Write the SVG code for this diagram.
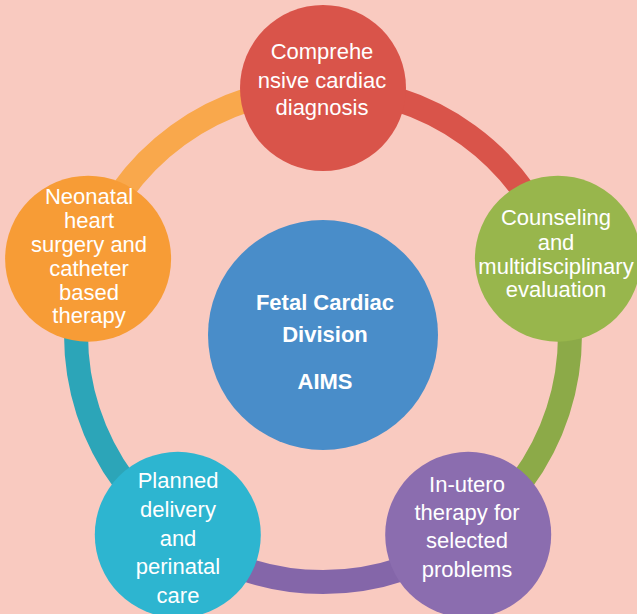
<svg xmlns="http://www.w3.org/2000/svg" width="637" height="614" viewBox="0 0 637 614">
  <style>
    .ring { fill: none; stroke-width: 24; }
    .lbl { font-family: "Liberation Sans", Arial, sans-serif; font-size: 22px; fill: #ffffff; text-anchor: middle; }
    .hub { font-family: "Liberation Sans", Arial, sans-serif; font-size: 22px; font-weight: bold; fill: #ffffff; text-anchor: middle; }
  </style>
  <rect x="0" y="0" width="637" height="614" fill="#F9CAC0"/>

  <!-- cycle connectors on a ring centred at (323,335), r=247 -->
  <g id="connectors">
    <path class="ring" stroke="#D9544A" d="M 323 88 A 247 247 0 0 1 557.9 258.7"/>
    <path class="ring" stroke="#8CAA48" d="M 557.9 258.7 A 247 247 0 0 1 468.2 534.8"/>
    <path class="ring" stroke="#8466A9" d="M 468.2 534.8 A 247 247 0 0 1 177.8 534.8"/>
    <path class="ring" stroke="#2CA5B8" d="M 177.8 534.8 A 247 247 0 0 1 88.1 258.7"/>
    <path class="ring" stroke="#F9A84C" d="M 88.1 258.7 A 247 247 0 0 1 323 88"/>
  </g>

  <g id="hub">
    <circle cx="323" cy="335" r="115" fill="#498DC9"/>
    <text class="hub" x="325" y="310">Fetal Cardiac</text>
    <text class="hub" x="325" y="342">Division</text>
    <text class="hub" x="325" y="389">AIMS</text>
  </g>

  <g id="diagnosis">
    <circle cx="323" cy="88" r="83" fill="#D9544A"/>
    <text class="lbl" x="322" y="59">Comprehe</text>
    <text class="lbl" x="322" y="88">nsive cardiac</text>
    <text class="lbl" x="322" y="115">diagnosis</text>
  </g>

  <g id="counseling">
    <circle cx="557.9" cy="258.7" r="83" fill="#98B64C"/>
    <text class="lbl" x="556" y="225">Counseling</text>
    <text class="lbl" x="556" y="250">and</text>
    <text class="lbl" x="556" y="274">multidisciplinary</text>
    <text class="lbl" x="556" y="297">evaluation</text>
  </g>

  <g id="in-utero">
    <circle cx="468.2" cy="534.8" r="83" fill="#8B6DAF"/>
    <text class="lbl" x="467" y="492">In-utero</text>
    <text class="lbl" x="467" y="520">therapy for</text>
    <text class="lbl" x="467" y="548">selected</text>
    <text class="lbl" x="467" y="577">problems</text>
  </g>

  <g id="delivery">
    <circle cx="177.8" cy="534.8" r="83" fill="#2DB5D0"/>
    <text class="lbl" x="178" y="488">Planned</text>
    <text class="lbl" x="178" y="517">delivery</text>
    <text class="lbl" x="178" y="546">and</text>
    <text class="lbl" x="178" y="574">perinatal</text>
    <text class="lbl" x="178" y="603">care</text>
  </g>

  <g id="neonatal">
    <circle cx="88.1" cy="258.7" r="83" fill="#F79C36"/>
    <text class="lbl" x="89" y="204">Neonatal</text>
    <text class="lbl" x="89" y="228">heart</text>
    <text class="lbl" x="89" y="252">surgery and</text>
    <text class="lbl" x="89" y="276">catheter</text>
    <text class="lbl" x="89" y="300">based</text>
    <text class="lbl" x="89" y="323">therapy</text>
  </g>
</svg>
